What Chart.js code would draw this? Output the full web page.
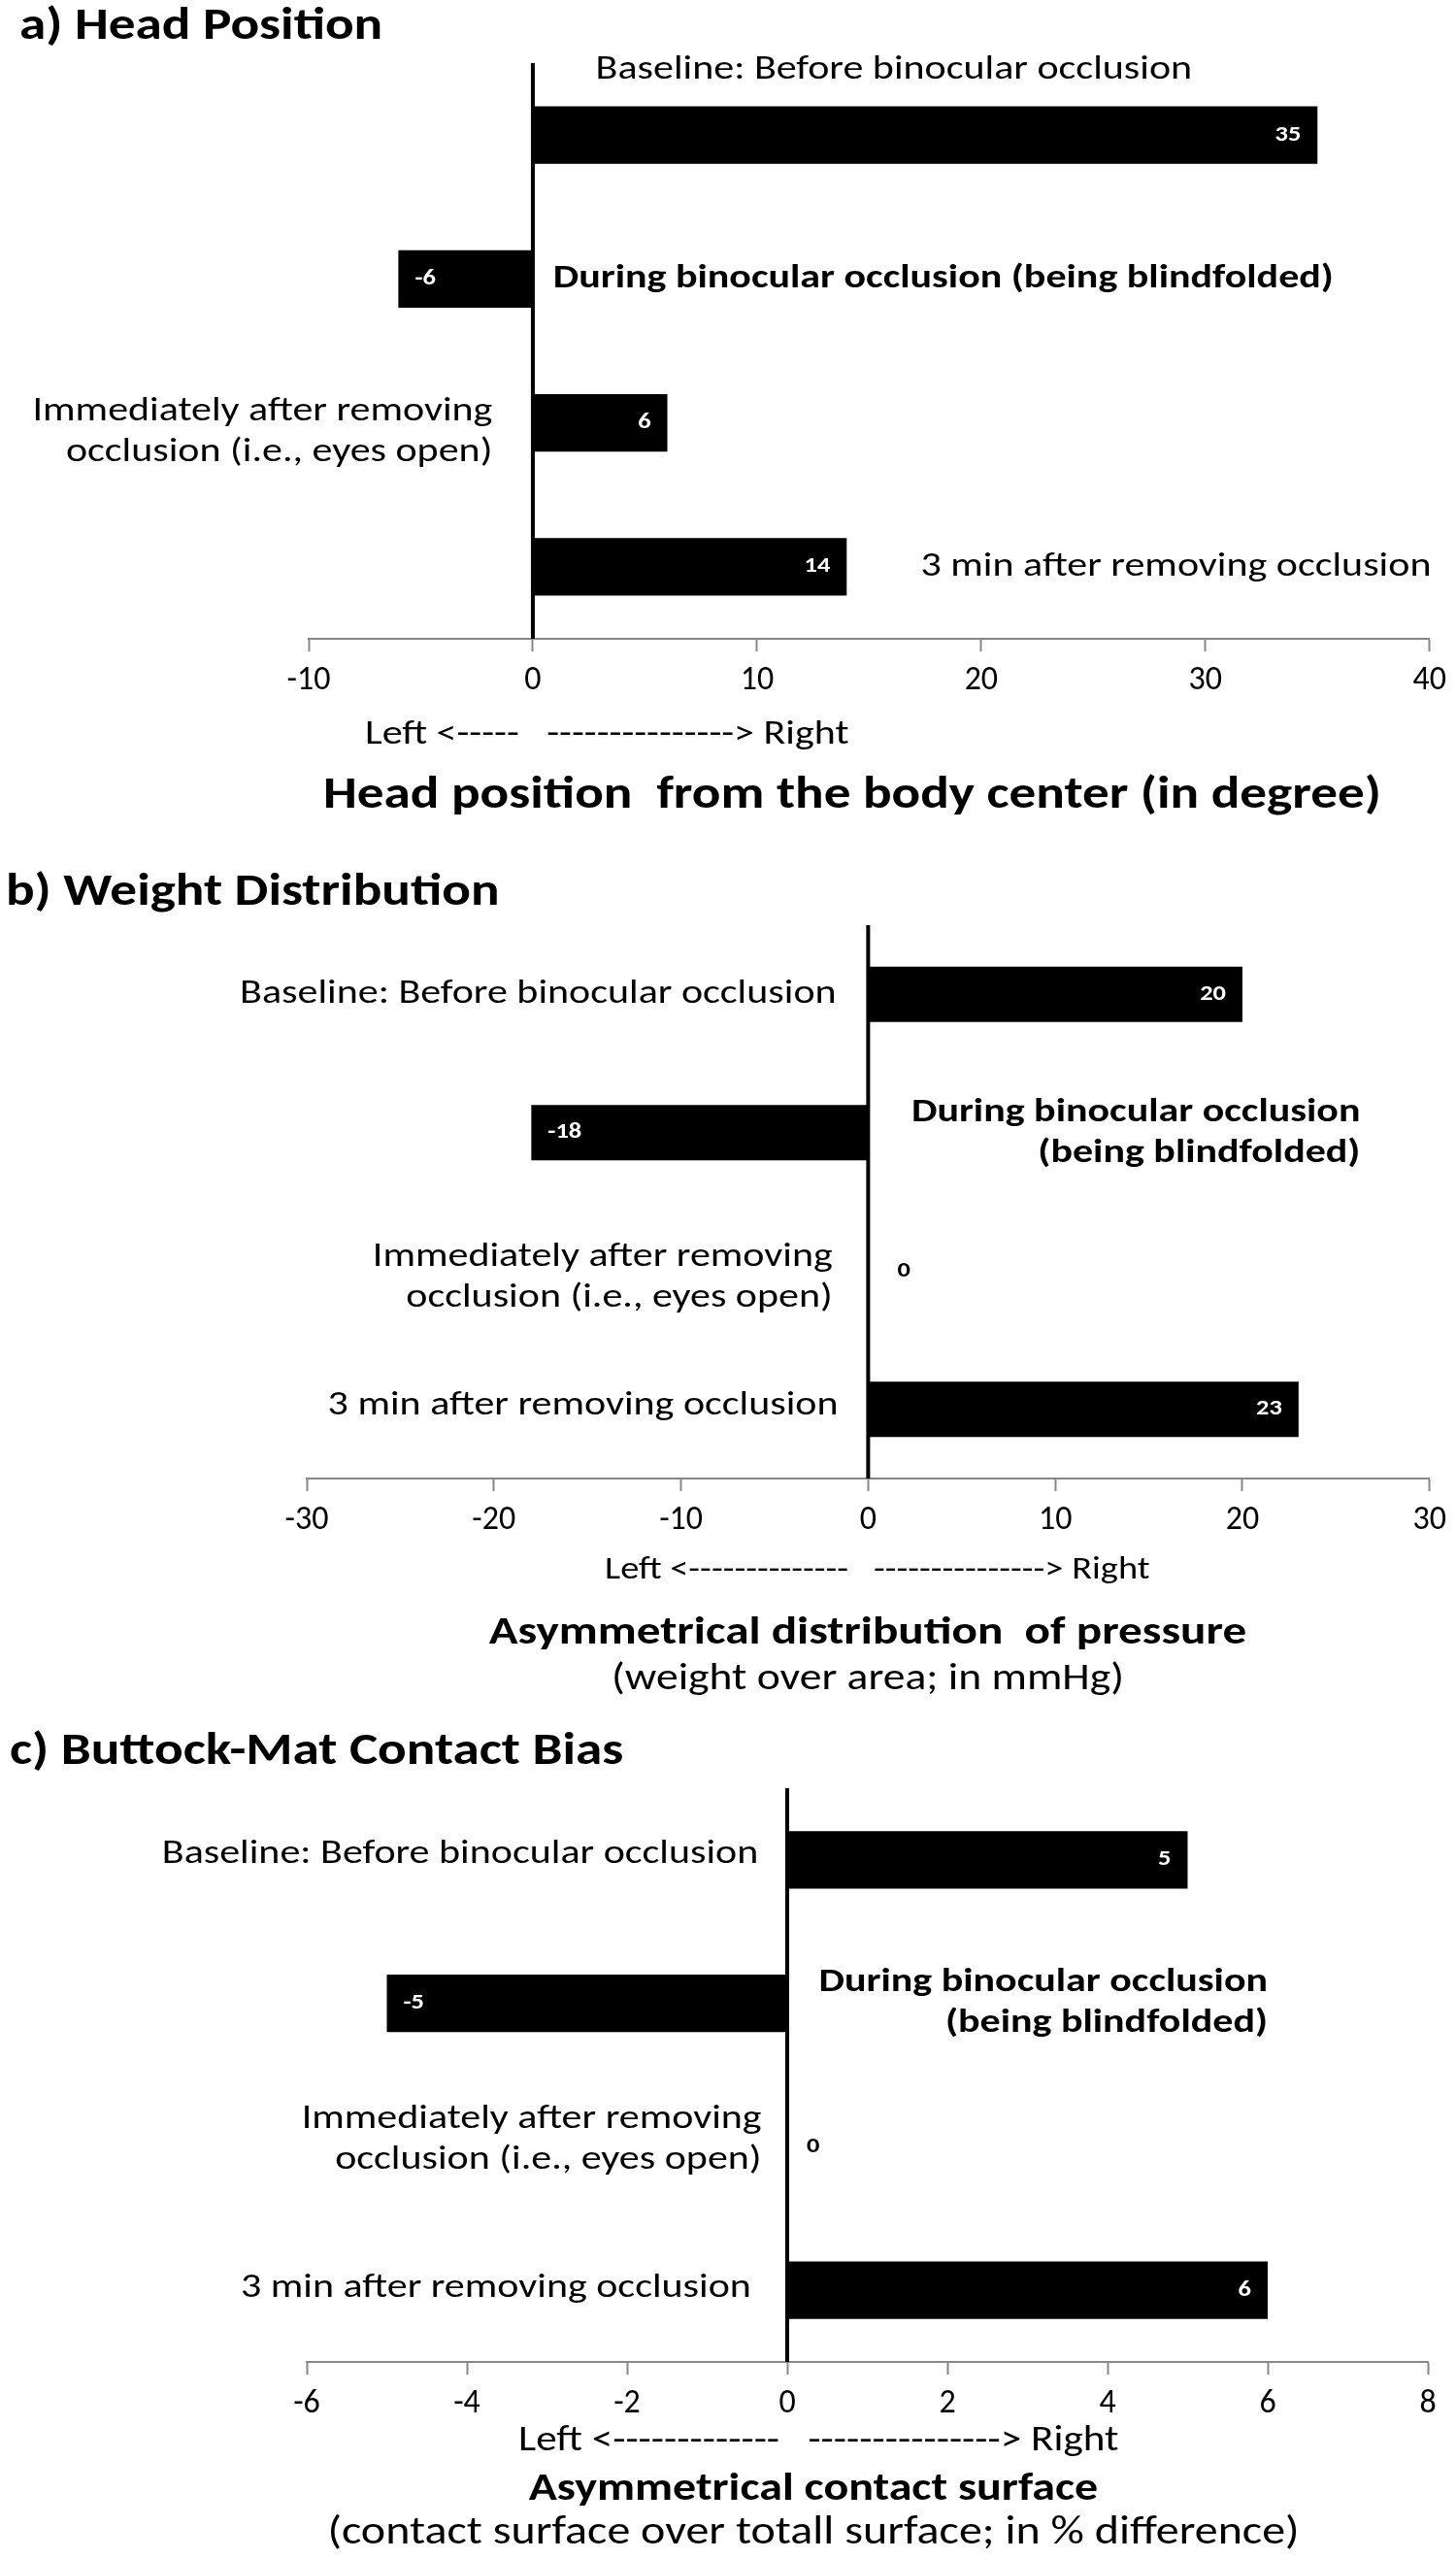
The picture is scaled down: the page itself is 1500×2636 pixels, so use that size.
<!DOCTYPE html>
<html>
<head>
<meta charset="utf-8">
<script src="https://cdn.jsdelivr.net/npm/chart.js@4.4.0/dist/chart.umd.min.js"></script>
<style>
  body { margin: 0; background: #fff; }
  .panel { position: absolute; left: 0; width: 1500px; }
</style>
</head>
<body>
<div class="panel" style="top:0"><canvas id="chartA" width="1500" height="880"></canvas></div>
<div class="panel" style="top:880px"><canvas id="chartB" width="1500" height="880"></canvas></div>
<div class="panel" style="top:1760px"><canvas id="chartC" width="1500" height="876"></canvas></div>
<script>
const FONT = 'Carlito, Lato, "Open Sans", sans-serif';
const SX = 1.2; // the original figure is stretched sideways a bit

// conditions (same for every panel)
const categories = [
  'Baseline: Before binocular occlusion',
  'During binocular occlusion (being blindfolded)',
  'Immediately after removing occlusion (i.e., eyes open)',
  '3 min after removing occlusion'
];

// a) head position, degrees
const headValues = [35, -6, 6, 14];
const headTicks = [-10, 0, 10, 20, 30, 40];

// b) weight distribution, mmHg
const weightValues = [20, -18, 0, 23];
const weightTicks = [-30, -20, -10, 0, 10, 20, 30];

// c) buttock-mat contact, % difference
const contactValues = [5, -5, 0, 6];
const contactTicks = [-6, -4, -2, 0, 2, 4, 6, 8];

// break a label into lines after n words (0 = one line)
function wrap(text, n) {
  if (!n) return [text];
  const w = text.split(' ');
  return [w.slice(0, n).join(' '), w.slice(n).join(' ')];
}

function say(ctx, str, x, y, align, font, color) {
  ctx.save();
  ctx.translate(x, y);
  ctx.scale(SX, 1);
  ctx.font = font;
  ctx.fillStyle = color || '#000';
  ctx.textAlign = align;
  ctx.textBaseline = 'middle';
  ctx.fillText(str, 0, 0);
  ctx.restore();
}

const panelText = {
  id: 'panelText',
  afterDatasetsDraw(chart, args, opts) {
    const { ctx, chartArea } = chart;
    const xs = chart.scales.x, ys = chart.scales.y;
    const x0 = xs.getPixelForValue(0);

    // vertical axis at zero
    ctx.save();
    ctx.strokeStyle = '#000';
    ctx.lineWidth = 4;
    ctx.beginPath();
    ctx.moveTo(x0, chartArea.top);
    ctx.lineTo(x0, chartArea.bottom);
    ctx.stroke();
    ctx.restore();

    // value labels, inside end of the bars
    const vf = 'bold 22px ' + FONT;
    const vals = chart.data.datasets[0].data;
    chart.getDatasetMeta(0).data.forEach((bar, i) => {
      const v = vals[i];
      if (v > 0) say(ctx, String(v), bar.x - 17, bar.y, 'right', vf, '#fff');
      else if (v < 0) say(ctx, String(v), bar.x + 17, bar.y, 'left', vf, '#fff');
      else say(ctx, '0', x0 + opts.zeroGap, bar.y, 'left', vf, '#000');
    });

    // condition labels next to the bars
    opts.labels.forEach((lab, i) => {
      const lines = wrap(categories[i], lab.wrap);
      const yc = ys.getPixelForValue(i) + lab.dy;
      const f = (lab.bold ? 'bold ' : '') + '35px ' + FONT;
      lines.forEach((t, k) => {
        say(ctx, t, xs.getPixelForValue(lab.at), yc + (k - (lines.length - 1) / 2) * 42, lab.align, f);
      });
    });

    // panel title
    say(ctx, opts.title, opts.titleX, opts.titleY, 'left', 'bold 46px ' + FONT);

    // notes under the axis
    opts.notes.forEach(n => {
      say(ctx, n.text, n.x, chartArea.bottom + n.dy, n.align, (n.bold ? 'bold ' : '') + n.size + 'px ' + FONT);
    });
  }
};

function makePanel(id, values, ticks, height, pad, chartBottom, text) {
  new Chart(document.getElementById(id), {
    type: 'bar',
    data: {
      labels: categories,
      datasets: [{
        data: values,
        backgroundColor: '#000',
        borderWidth: 0,
        barPercentage: 0.4,
        categoryPercentage: 1.0
      }]
    },
    options: {
      indexAxis: 'y',
      responsive: false,
      animation: false,
      devicePixelRatio: 1,
      layout: { padding: { left: pad.left, right: pad.right, top: pad.top, bottom: 0 } },
      plugins: {
        legend: { display: false },
        tooltip: { enabled: false },
        panelText: text
      },
      scales: {
        y: { type: 'category', display: false },
        x: {
          type: 'linear',
          min: ticks[0],
          max: ticks[ticks.length - 1],
          afterBuildTicks: s => { s.ticks = ticks.map(v => ({ value: v })); },
          afterFit: s => { s.height = height - chartBottom; },
          ticks: {
            font: { size: 34, family: FONT },
            color: '#000',
            padding: 10,
            maxRotation: 0
          },
          grid: {
            display: true,
            drawOnChartArea: false,
            tickLength: 13,
            tickColor: '#878787',
            tickWidth: 2
          },
          border: { display: true, color: '#878787', width: 2 }
        }
      }
    },
    plugins: [panelText]
  });
}

makePanel('chartA', headValues, headTicks, 880, { left: 318, right: 22, top: 65 }, 658, {
  title: 'a) Head Position', titleX: 20, titleY: 28, zeroGap: 18,
  labels: [
    { at: 2.8, align: 'left', dy: -67 },
    { at: 0.9, align: 'left', dy: 0, bold: true },
    { at: -1.8, align: 'right', dy: 10, wrap: 3 },
    { at: 17.3, align: 'left', dy: 0 }
  ],
  notes: [
    { text: 'Left <-----   ---------------> Right', x: 376, dy: 99, align: 'left', size: 35 },
    { text: 'Head position  from the body center (in degree)', x: 878, dy: 162, align: 'center', bold: true, size: 46 }
  ]
});

makePanel('chartB', weightValues, weightTicks, 880, { left: 316, right: 27, top: 73 }, 643, {
  title: 'b) Weight Distribution', titleX: 6, titleY: 40, zeroGap: 30,
  labels: [
    { at: -1.7, align: 'right', dy: 0 },
    { at: 26.3, align: 'right', dy: 0, bold: true, wrap: 3 },
    { at: -1.9, align: 'right', dy: 7, wrap: 3 },
    { at: -1.6, align: 'right', dy: -4 }
  ],
  notes: [
    { text: 'Left <--------------   ---------------> Right', x: 623, dy: 95, align: 'left', size: 32 },
    { text: 'Asymmetrical distribution  of pressure', x: 894, dy: 160, align: 'center', bold: true, size: 41 },
    { text: '(weight over area; in mmHg)', x: 894, dy: 207, align: 'center', size: 38 }
  ]
});

makePanel('chartC', contactValues, contactTicks, 876, { left: 316, right: 29, top: 82 }, 673, {
  title: 'c) Buttock-Mat Contact Bias', titleX: 10, titleY: 45, zeroGap: 20,
  labels: [
    { at: -0.36, align: 'right', dy: -6 },
    { at: 6.0, align: 'right', dy: 0, bold: true, wrap: 3 },
    { at: -0.32, align: 'right', dy: -7, wrap: 3 },
    { at: -0.45, align: 'right', dy: -2 }
  ],
  notes: [
    { text: 'Left <-------------   ---------------> Right', x: 534, dy: 82, align: 'left', size: 36 },
    { text: 'Asymmetrical contact surface', x: 838, dy: 132, align: 'center', bold: true, size: 40 },
    { text: '(contact surface over totall surface; in % difference)', x: 838, dy: 177, align: 'center', size: 40 }
  ]
});
</script>
</body>
</html>
